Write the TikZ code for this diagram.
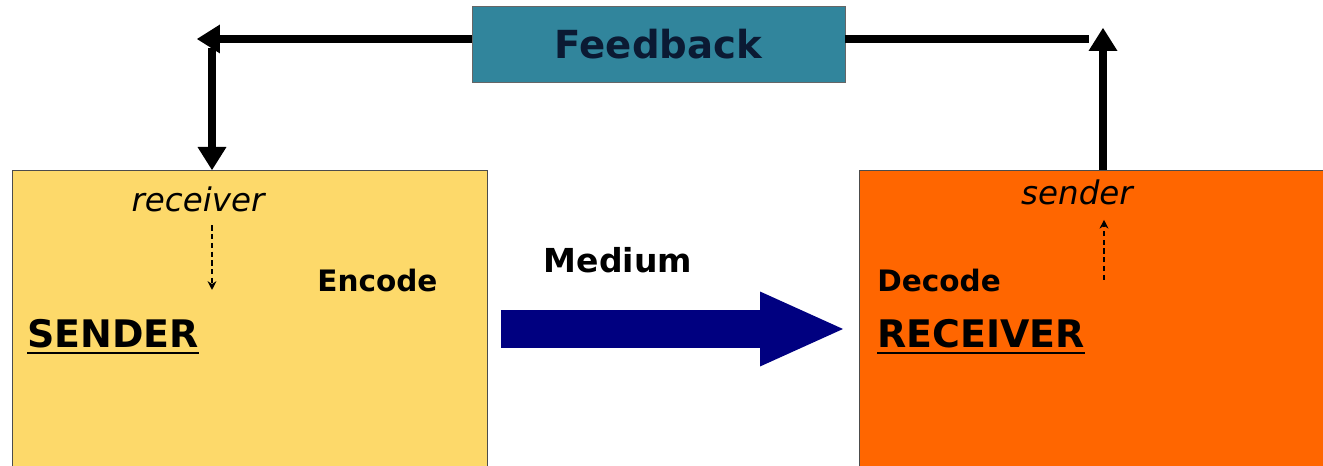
\documentclass[tikz,border=0pt]{standalone}
\usepackage{fontspec}
\setmainfont{DejaVu Sans}
\usetikzlibrary{positioning, arrows.meta}

\definecolor{senderfill}{HTML}{FDD96A}
\definecolor{receiverfill}{HTML}{FF6600}
\definecolor{feedbackfill}{HTML}{31859C}
\definecolor{mediumblue}{HTML}{000080}
\definecolor{feedbacktext}{HTML}{0B1A33}

% thick underline for the role labels
\newcommand{\roleline}[1]{\setbox0\hbox{#1}\leavevmode\rlap{\rule[-3.6pt]{\wd0}{1.5pt}}\box0}

\begin{document}
\begin{tikzpicture}[
    x=0.02cm, y=0.02cm,
    % box styles
    party/.style={rectangle, draw=black!70, line width=0.6pt, anchor=north west, minimum width=9.5cm, minimum height=6cm, inner sep=0pt},
    fbbox/.style={rectangle, draw=black!60, fill=feedbackfill, minimum width=7.46cm, minimum height=1.52cm, font=\fontsize{22}{26}\selectfont\bfseries, text=feedbacktext},
    % text styles
    role/.style={anchor=west, inner sep=0pt, font=\fontsize{21.6}{25}\selectfont\bfseries},
    codetxt/.style={anchor=west, inner sep=0pt, font=\fontsize{16.8}{20}\selectfont\bfseries},
    hinttxt/.style={font=\fontsize{18.5}{22}\selectfont\itshape},
    % arrow styles
    fbarrow/.style={-{Triangle[length=0.46cm, width=0.58cm, line width=0pt]}, line width=4pt},
    hint/.style={-{Stealth[length=5pt, width=5pt]}, line width=0.8pt, dash pattern=on 3pt off 2pt},
    medium/.style={-{Triangle[length=1.66cm, width=1.5cm, line width=0pt]}, line width=0.76cm, draw=mediumblue}
]
\useasboundingbox (0,0) rectangle (1323,466);

% ==== boxes ====
\node[party, fill=senderfill] (sender) at (12,296) {};
\node[party, fill=receiverfill] (receiver) at (859,296) {};
\node[fbbox] (feedback) at (658.5,422) {Feedback};

% ==== feedback loop ====
\coordinate (loopL) at (197,427);
\coordinate (loopR) at (1089,427);
\coordinate (downtop) at (212,418);
\coordinate (uptip) at (1103,438);

\draw[fbarrow] (feedback.west |- loopL) -- (loopL);
\draw[fbarrow] (downtop) -- (downtop |- sender.north);
\draw[line width=4pt] (feedback.east |- loopR) -- (loopR);
\draw[fbarrow] (uptip |- receiver.north) -- (uptip);

% ==== sender side ====
\node[hinttxt] (rcvtxt) at (198,267) {receiver};
\coordinate (rcvpt) at (212,176);
\draw[hint, shorten <=0.15cm] (rcvtxt.south -| rcvpt) -- (rcvpt);
\node[codetxt] (enc) at (317,185) {Encode};
\node[role] (sndlbl) at (27,129) {\roleline{SENDER}};

% ==== medium ====
\node[font=\fontsize{18.8}{22}\selectfont\bfseries] (medlbl) at (618,206) {Medium};
\coordinate (medy) at (0,137);
\draw[medium, shorten <=0.26cm, shorten >=0.32cm] (sender.east |- medy) -- (receiver.west |- medy);

% ==== receiver side ====
\node[hinttxt] (sndtxt) at (1077,274) {sender};
\coordinate (decpt) at (1104,186);
\draw[hint, shorten >=0.18cm] (decpt) -- (sndtxt.south -| decpt);
\node[codetxt] (dec) at (877,185) {Decode};
\node[role] (rcvlbl) at (877,129) {\roleline{RECEIVER}};

\end{tikzpicture}
\end{document}
